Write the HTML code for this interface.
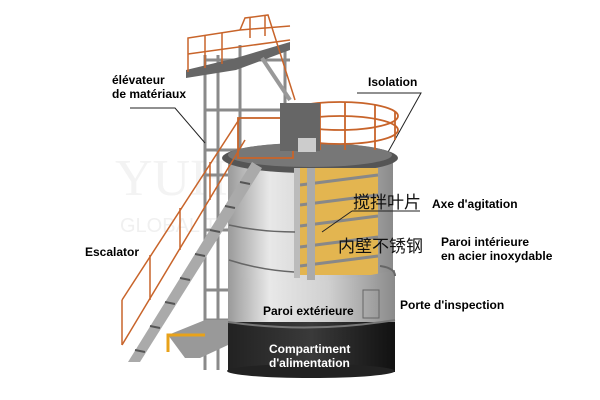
<!DOCTYPE html>
<html><head><meta charset="utf-8"><style>
html,body{margin:0;padding:0;background:#fff}
svg{display:block}
text{font-family:"Liberation Sans",Arial,sans-serif;font-weight:bold;font-size:12px;fill:#000}
.cn{font-family:"Liberation Sans","Noto Sans CJK SC",sans-serif;font-weight:normal;font-size:17px;fill:#111}
.w{fill:#fff}
</style></head><body>
<svg width="600" height="400" viewBox="0 0 600 400">
<defs>
<linearGradient id="body" x1="0" x2="1">
<stop offset="0" stop-color="#9a9a9a"/><stop offset="0.25" stop-color="#e8e8e8"/><stop offset="0.6" stop-color="#d0d0d0"/><stop offset="1" stop-color="#8a8a8a"/>
</linearGradient>
<linearGradient id="blk" x1="0" x2="1">
<stop offset="0" stop-color="#222"/><stop offset="0.5" stop-color="#3a3a3a"/><stop offset="1" stop-color="#111"/>
</linearGradient>
</defs>
<!-- watermark -->
<text x="115" y="195" style="font-size:52px;font-weight:normal;fill:#f3f3f3;font-family:'Liberation Serif',serif">YUHUAXIN</text>
<text x="120" y="232" style="font-size:20px;font-weight:normal;fill:#f0f0f0">GLOBAL TRADE INDUSTRY</text>

<!-- tower frame -->
<g stroke="#8a8a8a" stroke-width="3" fill="none">
<line x1="205" y1="55" x2="205" y2="370"/><line x1="218" y1="55" x2="218" y2="370"/>
<line x1="240" y1="45" x2="240" y2="160"/><line x1="285" y1="45" x2="285" y2="160"/>
<line x1="205" y1="110" x2="290" y2="110"/><line x1="205" y1="150" x2="240" y2="150"/>
<line x1="205" y1="230" x2="230" y2="230"/><line x1="205" y1="290" x2="230" y2="290"/>
<line x1="205" y1="175" x2="230" y2="175"/><line x1="205" y1="320" x2="230" y2="320"/>
<line x1="205" y1="60" x2="290" y2="60"/>
</g>
<!-- top platform -->
<polygon points="186,78 236,70 290,50 290,42 236,58 186,70" fill="#666"/>
<g stroke="#c8642a" stroke-width="1.5" fill="none">
<polyline points="188,72 188,38 240,30 290,26"/>
<line x1="188" y1="54" x2="290" y2="40"/>
<line x1="205" y1="36" x2="205" y2="68"/><line x1="222" y1="33" x2="222" y2="64"/>
<line x1="250" y1="18" x2="250" y2="38"/><line x1="265" y1="16" x2="265" y2="36"/>
<polyline points="240,30 245,18 268,15 295,100"/>
</g>
<!-- upper ladder -->
<line x1="262" y1="58" x2="290" y2="100" stroke="#999" stroke-width="4"/>
<!-- leaders -->
<g stroke="#222" stroke-width="1" fill="none">
<polyline points="357,93 421,93 378,170"/>
<polyline points="130,108 175,108 205,143"/>
</g>

<!-- cylinder body -->
<rect x="228" y="160" width="165" height="165" fill="url(#body)"/>
<ellipse cx="310" cy="158" rx="88" ry="15" fill="#555"/>
<ellipse cx="310" cy="155" rx="82" ry="12" fill="#777"/>
<!-- yellow insulation cutaway -->
<rect x="294" y="168" width="84" height="107" fill="#e3b550"/>
<g stroke="#888" stroke-width="3" fill="none">
<line x1="300" y1="185" x2="378" y2="175"/><line x1="300" y1="205" x2="378" y2="195"/>
<line x1="300" y1="226" x2="378" y2="216"/><line x1="300" y1="247" x2="378" y2="237"/>
<line x1="300" y1="266" x2="378" y2="256"/>
</g>
<rect x="307" y="168" width="8" height="112" fill="#aaa"/>
<rect x="294" y="168" width="6" height="110" fill="#bbb"/>
<g stroke="#666" stroke-width="1.5" fill="none">
<path d="M229 225 Q260 232 295 232"/>
<path d="M229 260 Q260 270 294 272"/>
</g>
<!-- lower ring band -->
<path d="M228 275 Q310 290 395 270 L395 322 L228 322 Z" fill="url(#body)"/>
<path d="M380 266 Q395 268 395 276" stroke="#666" stroke-width="2" fill="none"/>
<rect x="363" y="290" width="16" height="28" fill="none" stroke="#666"/>
<!-- deck railing -->
<g stroke="#c8642a" stroke-width="1.8" fill="none">
<ellipse cx="340" cy="116" rx="58" ry="14"/>
<ellipse cx="340" cy="130" rx="58" ry="14"/>
<line x1="290" y1="104" x2="290" y2="150"/><line x1="375" y1="105" x2="375" y2="150"/>
<line x1="395" y1="112" x2="395" y2="140"/><line x1="320" y1="103" x2="320" y2="150"/>
<line x1="345" y1="102" x2="345" y2="150"/>
<rect x="238" y="118" width="55" height="40"/>
</g>
<rect x="280" y="103" width="40" height="48" fill="#666"/>
<rect x="298" y="138" width="18" height="14" fill="#ccc"/>
<!-- base black -->
<rect x="228" y="322" width="167" height="50" fill="url(#blk)"/>
<ellipse cx="311" cy="371" rx="84" ry="7" fill="#222"/>
<path d="M228 322 Q310 334 395 320" stroke="#777" stroke-width="2" fill="none"/>

<!-- staircase -->
<polygon points="128,362 140,362 262,168 252,162" fill="#aaa"/>
<g stroke="#555" stroke-width="2">
<line x1="135" y1="350" x2="145" y2="352"/><line x1="150" y1="326" x2="160" y2="328"/>
<line x1="165" y1="302" x2="175" y2="304"/><line x1="180" y1="278" x2="190" y2="280"/>
<line x1="195" y1="254" x2="205" y2="256"/><line x1="210" y1="230" x2="220" y2="232"/>
<line x1="225" y1="206" x2="235" y2="208"/><line x1="240" y1="182" x2="250" y2="184"/>
</g>
<g stroke="#c8642a" stroke-width="1.5" fill="none">
<line x1="122" y1="345" x2="245" y2="140"/><line x1="122" y1="345" x2="122" y2="300"/>
<line x1="122" y1="300" x2="240" y2="118"/>
<line x1="150" y1="300" x2="150" y2="255"/><line x1="180" y1="250" x2="180" y2="208"/><line x1="210" y1="200" x2="210" y2="162"/>
</g>
<!-- hopper -->
<polygon points="168,335 205,320 228,320 228,345 200,358 185,358" fill="#999"/>
<polyline points="168,352 168,335 205,335" stroke="#e8a21a" stroke-width="3" fill="none"/>

<!-- labels -->
<text x="112" y="84">élévateur</text>
<text x="112" y="98">de matériaux</text>
<text x="368" y="86">Isolation</text>
<text x="432" y="208">Axe d'agitation</text>
<text x="441" y="246">Paroi intérieure</text>
<text x="441" y="260">en acier inoxydable</text>
<text x="85" y="256">Escalator</text>
<text x="400" y="309">Porte d'inspection</text>
<text x="263" y="315">Paroi extérieure</text>
<text class="w" x="269" y="353">Compartiment</text>
<text class="w" x="269" y="367">d'alimentation</text>
<text class="cn" x="353" y="208">搅拌叶片</text>
<line x1="352" y1="211" x2="420" y2="211" stroke="#222"/>
<line x1="352" y1="211" x2="322" y2="232" stroke="#222"/>
<text class="cn" x="338" y="252">内壁不锈钢</text>
</svg>
</body></html>
